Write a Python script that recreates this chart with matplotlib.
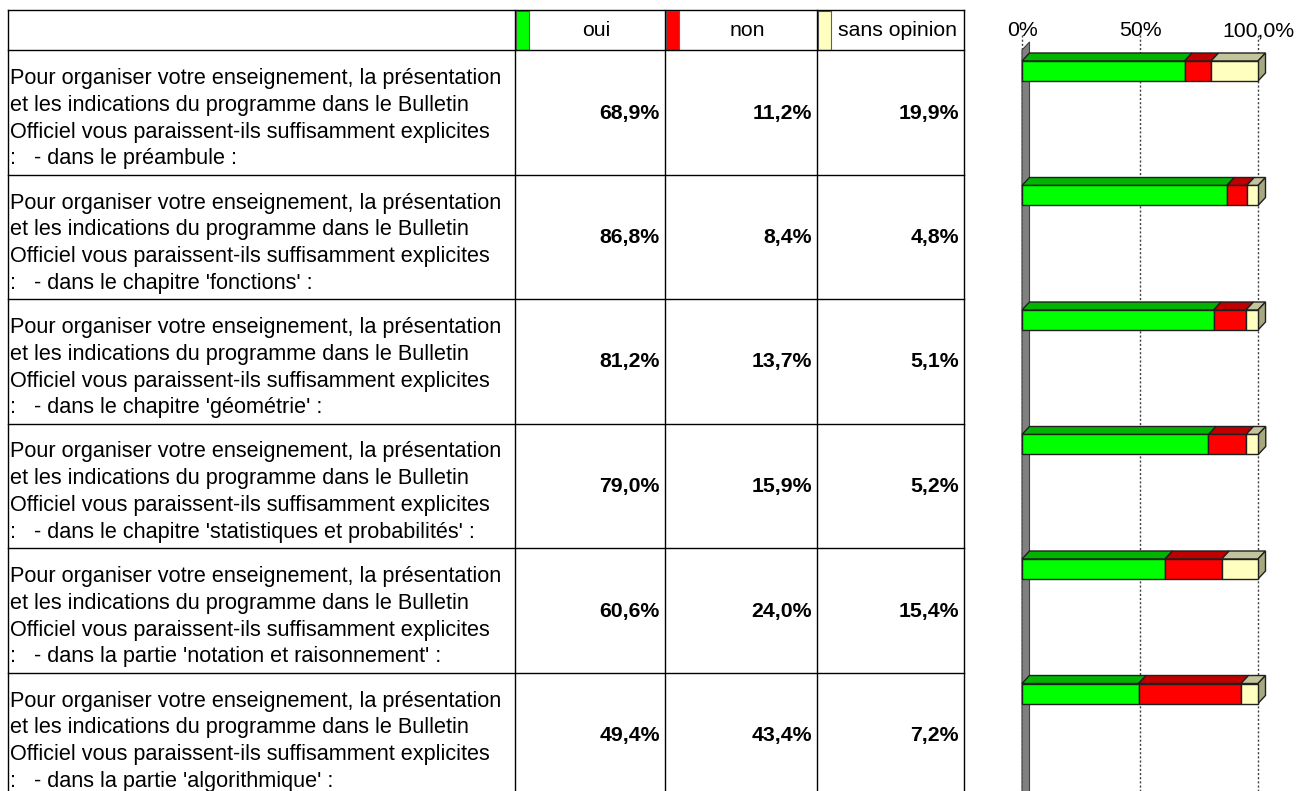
import matplotlib
matplotlib.use("Agg")
import matplotlib.pyplot as plt
from matplotlib.patches import Rectangle, Polygon
from matplotlib.lines import Line2D

plt.rcParams['font.family'] = ['Liberation Sans', 'DejaVu Sans']

# ---------------- data ----------------
question_head = ["Pour organiser votre enseignement, la présentation",
                 "et les indications du programme dans le Bulletin",
                 "Officiel vous paraissent-ils suffisamment explicites"]
question_tail = [":   - dans le préambule :",
                 ":   - dans le chapitre 'fonctions' :",
                 ":   - dans le chapitre 'géométrie' :",
                 ":   - dans le chapitre 'statistiques et probabilités' :",
                 ":   - dans la partie 'notation et raisonnement' :",
                 ":   - dans la partie 'algorithmique' :"]
series_names = ["oui", "non", "sans opinion"]
oui = [68.9, 86.8, 81.2, 79.0, 60.6, 49.4]
non = [11.2, 8.4, 13.7, 15.9, 24.0, 43.4]
sans = [19.9, 4.8, 5.1, 5.2, 15.4, 7.2]
tick_values = [0, 50, 100]
tick_labels = ["0%", "50%", "100,0%"]

front_cols = ["#00FF00", "#FF0000", "#FFFFC0"]
top_cols = ["#00B400", "#C00000", "#C4C49C"]
side_col = "#A8A880"

W, H = 1297, 791
fig = plt.figure(figsize=(W / 100, H / 100), dpi=100)

# ---------------- table (pixel layout axes) ----------------
tab = fig.add_axes([0, 0, 1, 1])
tab.set_xlim(0, W)
tab.set_ylim(H, 0)
tab.axis('off')

FS = 15.3
FS_Q = 15.6
x_cols = [8, 515, 665, 817, 964]
y_top, y_head = 10, 50
row_h = 124.5
n = len(oui)
lc = 'black'
lw = 1.0

# outer/header lines
tab.add_line(Line2D([x_cols[0], x_cols[-1]], [y_top, y_top], color=lc, lw=lw))
for xc in x_cols:
    tab.add_line(Line2D([xc, xc], [y_top, H + 10], color=lc, lw=lw))
for i in range(n + 1):
    yy = y_head + i * row_h
    tab.add_line(Line2D([x_cols[0], x_cols[-1]], [yy, yy], color=lc, lw=lw))

# header legend patches + labels
patch_w = 13
for j, name in enumerate(series_names):
    x0 = x_cols[j + 1]
    tab.add_patch(Rectangle((x0 + 0.5, y_top + 0.5), patch_w, y_head - y_top - 1,
                            facecolor=front_cols[j], edgecolor='#606060', lw=0.8))
    xc = (x0 + patch_w + x_cols[j + 2]) / 2
    tab.text(xc, (y_top + y_head) / 2, name, ha='center', va='center', fontsize=FS)

# rows
def fmt(v):
    return f"{v:.1f}%".replace('.', ',')

for i in range(n):
    rt = y_head + i * row_h
    lines = question_head + [question_tail[i]]
    for k, ln in enumerate(lines):
        tab.text(10, rt + 28.5 + 26.8 * k, ln, ha='left', va='center', fontsize=FS_Q)
    for j, vals in enumerate([oui, non, sans]):
        tab.text(x_cols[j + 2] - 5, rt + 63, fmt(vals[i]), ha='right', va='center',
                 fontsize=FS, fontweight='bold')

# ---------------- 3D-like bar chart ----------------
x0_px, x100_px = 1022, 1258
ax_h_px = n * row_h
ax = fig.add_axes([x0_px / W, (H - (y_head + ax_h_px)) / H,
                   (x100_px - x0_px) / W, ax_h_px / H])
ax.set_xlim(0, 100)
ax.set_ylim(n, 0)
for s in ax.spines.values():
    s.set_visible(False)
ax.set_yticks([])
ax.xaxis.tick_top()
ax.set_xticks(tick_values)
ax.set_xticklabels(tick_labels, fontsize=FS)
ax.tick_params(axis='x', length=0, pad=7)
ax.patch.set_visible(False)

dx = 7.5 / (x100_px - x0_px) * 100   # depth in data units (x)
dy = 8 / row_h                        # depth in data units (y)

# gridlines (dotted) from the back top
for tv in tick_values:
    ax.add_line(Line2D([tv, tv], [-dy - 0.06, n], color='#404040', lw=1,
                       ls=(0, (1.5, 1.5)), zorder=1, clip_on=False))

# grey wall at 0
wall = Polygon([(0, 0), (dx, -dy), (dx, n), (0, n)], closed=True,
               facecolor='#808080', edgecolor='#404040', lw=0.8, zorder=2, clip_on=False)
ax.add_patch(wall)

bar_h = 20 / row_h
bar_c = 21 / row_h
ys = [i + bar_c for i in range(n)]
lefts = [0] * n
series = [oui, non, sans]
for j, vals in enumerate(series):
    ax.barh(ys, vals, left=lefts, height=bar_h, color=front_cols[j],
            edgecolor='#202020', lw=1, zorder=4, clip_on=False)
    for i in range(n):
        l = lefts[i]
        r = l + vals[i]
        top = ys[i] - bar_h / 2
        ax.add_patch(Polygon([(l, top), (l + dx, top - dy), (r + dx, top - dy), (r, top)],
                             closed=True, facecolor=top_cols[j], edgecolor='#202020',
                             lw=1, zorder=3, clip_on=False))
        if j == len(series) - 1:
            bot = ys[i] + bar_h / 2
            ax.add_patch(Polygon([(r, top), (r + dx, top - dy), (r + dx, bot - dy), (r, bot)],
                                 closed=True, facecolor=side_col, edgecolor='#202020',
                                 lw=1, zorder=3, clip_on=False))
    lefts = [lefts[i] + vals[i] for i in range(n)]

fig.savefig("out.png", dpi=100)
